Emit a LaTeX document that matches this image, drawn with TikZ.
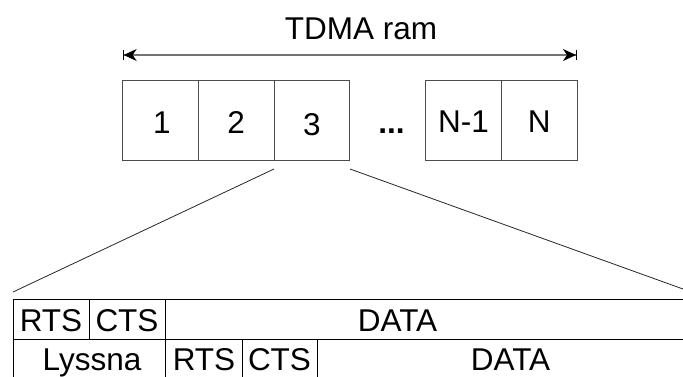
\documentclass[tikz,border=0pt]{standalone}
\usepackage{fontspec}
\setmainfont{Liberation Sans}
\usetikzlibrary{arrows.meta}
\begin{document}
\begin{tikzpicture}[x=1pt,y=-1pt,
  every node/.style={font=\fontsize{31.5}{36}\selectfont, inner sep=0pt},
  slot/.style={draw=black!70, line width=0.9pt, minimum width=75.7pt, minimum height=80.7pt},
  txt/.style={anchor=base},
  fan/.style={draw=black!85, line width=0.8pt},
  grid/.style={draw=black, line width=0.9pt},
  span/.style={draw=black!55, line width=1.2pt,
    {Bar[width=10pt,line width=1pt,black]Stealth[length=13pt,width=12pt,inset=4pt,black]}-{Stealth[length=13pt,width=12pt,inset=4pt,black]Bar[width=10pt,line width=1pt,black]}},
]
\useasboundingbox (0,0) rectangle (683,376);
\clip (0,0) rectangle (683,376);

% frame title and its span arrow
\node[txt] (title) at (361,39) {TDMA ram};
\coordinate (spanL) at (122.7,55);
\coordinate (spanR) at (577,55);
\draw[span] (spanL) -- (spanR);

% time slots of the frame
\node[slot] (s1) at (160.5,120.4) {};
\node[slot] (s2) at (236.2,120.4) {};
\node[slot] (s3) at (312,120.4) {};
\node[slot] (sn1) at (463.4,120.4) {};
\node[slot] (sn) at (539.3,120.4) {};
\node (l1) at (162,122.5) {1};
\node (l2) at (236.2,122.5) {2};
\node (l3) at (312,125) {3};
\node (ln1) at (463.4,122) {N-1};
\node (ln) at (539.3,122) {N};
\node[txt] (dots) at (391.5,133) {\textbf{...}};

% zoom lines from slot 3 to the slot layout
\coordinate (z3L) at (274,169);
\coordinate (z3R) at (350,169);
\coordinate (zL) at (13,292);
\coordinate (zR) at (683,289);
\draw[fan] (z3L) -- (zL);
\draw[fan] (z3R) -- (zR);

% slot layout table
\draw[grid] (13,380) -- (13,299) -- (700,299);
\draw[grid] (13,339) -- (700,339);
\draw[grid] (89,299) -- (89,339);
\draw[grid] (165.5,299) -- (165.5,380);
\draw[grid] (242,339) -- (242,380);
\draw[grid] (317,339) -- (317,380);

\node[txt] (rts1) at (51,331.5) {RTS};
\node[txt] (cts1) at (127,331.5) {CTS};
\node[txt] (data1) at (397.5,331) {DATA};
\node[txt] (lys) at (92,370.7) {Lyssna};
\node[txt] (rts2) at (204,370.7) {RTS};
\node[txt] (cts2) at (279.5,370.7) {CTS};
\node[txt] (data2) at (510.5,370.5) {DATA};
\end{tikzpicture}
\end{document}
